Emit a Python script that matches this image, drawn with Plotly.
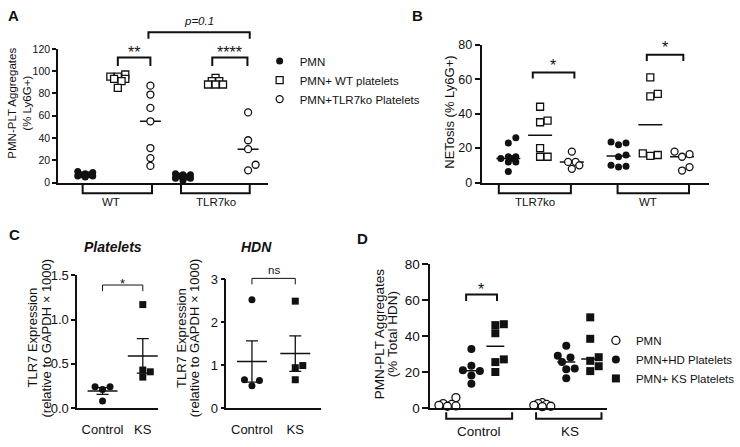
import numpy as np
import plotly.graph_objects as go

W, H = 740, 447
FONT = "Liberation Sans, Arial, sans-serif"
BLACK = "#111111"

# ---------------- data ----------------
# Panel A: PMN-PLT aggregates (% Ly6G+)
A_GROUPS = ["WT", "TLR7ko"]
A_SERIES = ["PMN", "PMN+ WT platelets", "PMN+TLR7ko Platelets"]
A_WT_PMN = [10, 9, 8, 7, 7, 6, 6, 5]
A_WT_WTPLT = [97, 95, 95, 93, 93, 91, 85]
A_WT_KOPLT = [87, 79, 67, 55, 31, 22, 15]
A_KO_PMN = [8, 7, 7, 6, 5, 4, 4, 2]
A_KO_WTPLT = [94, 91, 91, 88, 88, 88]
A_KO_KOPLT = [63, 38, 30, 16, 11]
A_YTICKS = [0, 20, 40, 60, 80, 100, 120]

# Panel B: NETosis (% Ly6G+)
B_GROUPS = ["TLR7ko", "WT"]
B_KO_PMN = [26, 23, 15, 15, 14, 14, 12, 12, 6.5]
B_KO_WTPLT = [44, 36, 35, 20, 15, 15]
B_KO_KOPLT = [18, 12, 12, 10, 8]
B_WT_PMN = [23.5, 23, 22, 16, 15, 10, 9.5, 9]
B_WT_WTPLT = [61, 51.5, 50, 17, 16, 15.5]
B_WT_KOPLT = [18, 16.5, 15, 9, 7]
B_YTICKS = [0, 20, 40, 60, 80]

# Panel C: TLR7 expression
C_CATS = ["Control", "KS"]
C_PLT_CONTROL = [0.24, 0.21, 0.24, 0.08]
C_PLT_KS = [1.17, 0.43, 0.41, 0.35]
C_HDN_CONTROL = [2.52, 0.66, 0.64, 0.52]
C_HDN_KS = [2.49, 0.99, 0.94, 0.66]
C_PLT_YTICKS = [0, 0.5, 1.0, 1.5]
C_PLT_YLABELS = ["0.0", "0.5", "1.0", "1.5"]
C_HDN_YTICKS = [0, 1, 2, 3]

# Panel D: PMN-PLT aggregates (% Total HDN)
D_GROUPS = ["Control", "KS"]
D_SERIES = ["PMN", "PMN+HD Platelets", "PMN+ KS Platelets"]
D_CTRL_PMN = [5.8, 2.5, 2, 1.5, 1.2, 1]
D_CTRL_HD = [32.7, 23.5, 21, 20.5, 18, 13.5]
D_CTRL_KS = [46.5, 46, 41.5, 27, 25.5, 20]
D_KS_PMN = [3, 2.5, 2, 1.5, 1, 0.8]
D_KS_HD = [34.5, 29, 28, 25.5, 22, 21.5, 16.5]
D_KS_KS = [50.3, 38.4, 28.2, 26.2, 23.2, 20.5]
D_YTICKS = [0, 20, 40, 60, 80]

# ---------------- geometry (pixels) ----------------
P = {
    "A": dict(n="", xdom=(58.3, 268.0), ydom=(43.3, 181.7), xr=(-0.83, 5.6), yr=(0, 120)),
    "B": dict(n="2", xdom=(482.3, 710.0), ydom=(39.0, 181.7), xr=(-0.84, 6.32), yr=(0, 80)),
    "C1": dict(n="3", xdom=(77.3, 158.3), ydom=(277.7, 415.0), xr=(-0.63, 1.38), yr=(0, 1.5)),
    "C2": dict(n="4", xdom=(226.7, 321.7), ydom=(281.7, 415.0), xr=(-0.59, 1.6), yr=(0, 3)),
    "D": dict(n="5", xdom=(431.0, 608.3), ydom=(265.7, 415.0), xr=(-0.71, 6.68), yr=(0, 80)),
}
for p in P.values():
    p["sx"] = (p["xdom"][1] - p["xdom"][0]) / (p["xr"][1] - p["xr"][0])
    p["sy"] = (p["ydom"][1] - p["ydom"][0]) / (p["yr"][1] - p["yr"][0])
    p["xa"] = "x" + p["n"]
    p["ya"] = "y" + p["n"]


def py(pix):
    return 1 - pix / H


def yv(p, v):
    b, t = 1 - p["ydom"][1] / H, 1 - p["ydom"][0] / H
    return b + (v - p["yr"][0]) / (p["yr"][1] - p["yr"][0]) * (t - b)


def swarm(vals, center, p, d, wmax):
    """Beeswarm offsets (in data units) limited to +/- wmax pixels."""
    order = sorted(range(len(vals)), key=lambda i: vals[i])
    step = d / 2
    cands = [0.0]
    for k in range(1, int(wmax // step) + 1):
        cands += [k * step, -k * step]
    placed, xs = [], [center] * len(vals)
    for i in order:
        ypx = vals[i] * p["sy"]
        best, bestd = 0.0, -1.0
        for c in cands:
            md = min([np.hypot(c - a, ypx - b) for a, b in placed] or [1e9])
            if md >= 0.97 * d:
                best = c
                break
            if md > bestd:
                bestd, best = md, c
        placed.append((best, ypx))
        xs[i] = center + best / p["sx"]
    return xs


fig = go.Figure()
shapes, anns = [], []

MARK = {
    "dot": dict(symbol="circle", color=BLACK, line=dict(width=0)),
    "osq": dict(symbol="square", color="white", line=dict(width=1.3, color=BLACK)),
    "ocir": dict(symbol="circle", color="white", line=dict(width=1.3, color=BLACK)),
    "sq": dict(symbol="square", color=BLACK, line=dict(width=0)),
}


def points(p, vals, center, kind, size, wmax, name="", legend=None):
    xs = swarm(vals, center, p, size + 0.5, wmax)
    m = dict(MARK[kind])
    m["size"] = size
    fig.add_trace(go.Scatter(
        x=xs, y=vals, xaxis=p["xa"], yaxis=p["ya"], mode="markers", marker=m,
        name=name, showlegend=legend is not None, legend=legend or "legend",
        cliponaxis=False, hoverinfo="skip"))


def hline(p, vals, center, halfpx, stat, lw=1.5):
    v = float(np.median(vals)) if stat == "median" else float(np.mean(vals))
    hw = halfpx / p["sx"]
    fig.add_trace(go.Scatter(
        x=[center - hw, center + hw], y=[v, v], xaxis=p["xa"], yaxis=p["ya"], mode="lines",
        line=dict(color=BLACK, width=lw), showlegend=False, cliponaxis=False, hoverinfo="skip"))


def sem_bar(p, vals, center):
    v = np.array(vals, dtype=float)
    sem = v.std(ddof=1) / np.sqrt(len(v))
    fig.add_trace(go.Scatter(
        x=[center], y=[v.mean()], xaxis=p["xa"], yaxis=p["ya"], mode="markers",
        marker=dict(size=1, color="rgba(0,0,0,0)"),
        error_y=dict(type="data", array=[sem], color=BLACK, thickness=1.3, width=6),
        showlegend=False, cliponaxis=False, hoverinfo="skip"))


def bracket(p, x0, x1, yh, yl, lw):
    shapes.append(dict(type="path", xref=p["xa"], yref="paper",
                       path=f"M {x0},{yl} L {x0},{yh} L {x1},{yh} L {x1},{yl}",
                       line=dict(color=BLACK, width=lw)))


def text(x, y, s, size, xref="paper", **kw):
    anns.append(dict(x=x, y=y, xref=xref, yref="paper", text=s, showarrow=False,
                     font=dict(size=size, color=BLACK, family=FONT),
                     xanchor="center", yanchor="middle", **kw))


def star(p, x, vis_px, s, size):
    text(x, py(vis_px + 0.25 * size), s, size, xref=p["xa"])


# ---------------- Panel A ----------------
pa = P["A"]
a_pos = [[0, 1, 2], [3, 4, 5]]
a_data = [[A_WT_PMN, A_WT_WTPLT, A_WT_KOPLT], [A_KO_PMN, A_KO_WTPLT, A_KO_KOPLT]]
a_kinds = ["dot", "osq", "ocir"]
for g in range(2):
    for s in range(3):
        hline(pa, a_data[g][s], a_pos[g][s], 10.5, "median")
for g in range(2):
    for s in range(3):
        points(pa, a_data[g][s], a_pos[g][s], a_kinds[s], 7, 10,
               name=A_SERIES[s], legend="legend" if g == 0 else None)
bracket(pa, 1, 2, yv(pa, 112.2), yv(pa, 104.7), 2)
star(pa, 1.5, 43, "**", 16)
bracket(pa, 3.9, 4.98, yv(pa, 112.2), yv(pa, 104.7), 2)
star(pa, 4.44, 43, "****", 16)
bracket(pa, 1.94, 5.05, yv(pa, 135), yv(pa, 129), 2)
text(3.5, py(15), "<i>p=0.1</i>", 11.5, xref=pa["xa"])
bracket(pa, -0.08, 2.05, py(192.7), py(184.3), 2)
bracket(pa, 2.94, 5.05, py(192.7), py(184.3), 2)
text(0.8, py(201.7), A_GROUPS[0], 11.5, xref=pa["xa"])
text(4.0, py(201.7), A_GROUPS[1], 11.5, xref=pa["xa"])
text(12 / W, py(99), "PMN-PLT Aggregates", 11.5, textangle=-90)
text(27 / W, py(99), "(% Ly6G+)", 11.5, textangle=-90)
text(14 / W, py(9), "<b>A</b>", 15)

# ---------------- Panel B ----------------
pb = P["B"]
b_pos = [[0, 1, 2], [3.47, 4.47, 5.47]]
b_data = [[B_KO_PMN, B_KO_WTPLT, B_KO_KOPLT], [B_WT_PMN, B_WT_WTPLT, B_WT_KOPLT]]
for g in range(2):
    for s in range(3):
        hline(pb, b_data[g][s], b_pos[g][s], 12, "median")
for g in range(2):
    for s in range(3):
        points(pb, b_data[g][s], b_pos[g][s], a_kinds[s], 7, 11)
bracket(pb, 0.77, 2.08, yv(pb, 63.9), yv(pb, 60.4), 2)
star(pb, 1.42, 57, "*", 16)
bracket(pb, 4.36, 5.51, yv(pb, 74.2), yv(pb, 70.6), 2)
star(pb, 4.93, 38, "*", 16)
bracket(pb, -0.3, 1.97, py(192.7), py(183.3), 2)
bracket(pb, 3.44, 5.69, py(192.7), py(183.3), 2)
text(0.84, py(201.7), B_GROUPS[0], 11.5, xref=pb["xa"])
text(4.4, py(201.7), B_GROUPS[1], 11.5, xref=pb["xa"])
text(450 / W, py(109), "NETosis (% Ly6G+)", 13, textangle=-90)
text(418 / W, py(9), "<b>B</b>", 15)

# ---------------- Panel C ----------------
for key, ctrl, ks in (("C1", C_PLT_CONTROL, C_PLT_KS), ("C2", C_HDN_CONTROL, C_HDN_KS)):
    pc = P[key]
    points(pc, ctrl, 0, "dot", 7, 12)
    points(pc, ks, 1, "sq", 7, 12)
    for c, vals in ((0, ctrl), (1, ks)):
        hline(pc, vals, c, 15, "mean", lw=1.5)
        sem_bar(pc, vals, c)
pc1, pc2 = P["C1"], P["C2"]
bracket(pc1, 0, 1, yv(pc1, 1.391), yv(pc1, 1.322), 1)
star(pc1, 0.5, 282.7, "*", 13)
bracket(pc2, 0, 1, yv(pc2, 3.02), yv(pc2, 2.88), 1)
text(0.5, py(271.7), "ns", 11.5, xref=pc2["xa"])
text(113.3 / W, py(248), "<b><i>Platelets</i></b>", 14)
text(257 / W, py(248), "<b><i>HDN</i></b>", 14)
for x1, x2 in ((33, 47), (181.7, 195)):
    text(x1 / W, py(342), "TLR7 Expression", 13, textangle=-90)
    text(x2 / W, py(342), "(relative to GAPDH × 1000)", 13, textangle=-90)
text(15 / W, py(235), "<b>C</b>", 15)

# ---------------- Panel D ----------------
pd_ = P["D"]
d_pos = [[0, 1, 2], [3.96, 4.96, 5.96]]
d_data = [[D_CTRL_PMN, D_CTRL_HD, D_CTRL_KS], [D_KS_PMN, D_KS_HD, D_KS_KS]]
d_kinds = ["ocir", "dot", "sq"]
for g in range(2):
    for s in range(3):
        hline(pd_, d_data[g][s], d_pos[g][s], 9, "median")
for g in range(2):
    for s in range(3):
        points(pd_, d_data[g][s], d_pos[g][s], d_kinds[s], 8, 9,
               name=D_SERIES[s], legend="legend2" if g == 0 else None)
bracket(pd_, 0.78, 2.07, yv(pd_, 63.0), yv(pd_, 59.3), 2)
star(pd_, 1.42, 288.3, "*", 16)
bracket(pd_, -0.05, 2.7, py(426), py(419.3), 2)
bracket(pd_, 3.7, 6.43, py(426), py(419.3), 2)
text(1.33, py(439.5), D_GROUPS[0], 13.5, xref=pd_["xa"])
text(5.1, py(439.5), D_GROUPS[1], 13.5, xref=pd_["xa"])
text(380 / W, py(338), "PMN-PLT Aggregates", 13.5, textangle=-90)
text(393 / W, py(338), "(% Total HDN)", 13.5, textangle=-90)
text(362.7 / W, py(240), "<b>D</b>", 15)

# ---------------- axes ----------------
layout = {}


def axes(p, yticks, ylabels, tfs, tlen, lw, xcats=None):
    xd = dict(domain=[p["xdom"][0] / W, p["xdom"][1] / W], range=list(p["xr"]), anchor=p["ya"],
              showline=True, linewidth=lw, linecolor=BLACK, showgrid=False, zeroline=False,
              fixedrange=True)
    if xcats:
        xd.update(tickvals=[0, 1], ticktext=xcats, ticks="outside", ticklen=9,
                  tickcolor="rgba(0,0,0,0)", tickfont=dict(size=13, color=BLACK))
    else:
        xd.update(showticklabels=False, ticks="")
    yd = dict(domain=[1 - p["ydom"][1] / H, 1 - p["ydom"][0] / H], range=list(p["yr"]),
              anchor=p["xa"], tickvals=yticks, ticktext=ylabels, ticks="outside", ticklen=tlen,
              tickwidth=1.5, tickcolor=BLACK, showline=True, linewidth=lw, linecolor=BLACK,
              showgrid=False, zeroline=False, tickfont=dict(size=tfs, color=BLACK), fixedrange=True)
    layout["xaxis" + p["n"]] = xd
    layout["yaxis" + p["n"]] = yd


axes(P["A"], A_YTICKS, [str(v) for v in A_YTICKS], 10.5, 4, 2)
axes(P["B"], B_YTICKS, [str(v) for v in B_YTICKS], 12.5, 5, 2)
axes(P["C1"], C_PLT_YTICKS, C_PLT_YLABELS, 13, 4, 1.5, C_CATS)
axes(P["C2"], C_HDN_YTICKS, [str(v) for v in C_HDN_YTICKS], 13, 4, 1.5, C_CATS)
axes(P["D"], D_YTICKS, [str(v) for v in D_YTICKS], 13.5, 6, 2)

fig.update_layout(
    width=W, height=H, margin=dict(l=0, r=0, t=0, b=0),
    paper_bgcolor="white", plot_bgcolor="white",
    font=dict(family=FONT, color=BLACK),
    shapes=shapes, annotations=anns,
    legend=dict(x=(300 - 40) / W, xanchor="left", y=py(41), yanchor="top",
                font=dict(size=11.5, color=BLACK), bgcolor="rgba(0,0,0,0)", tracegroupgap=0),
    legend2=dict(x=(636.7 - 40) / W, xanchor="left", y=py(330), yanchor="top",
                 font=dict(size=11.5, color=BLACK), bgcolor="rgba(0,0,0,0)", tracegroupgap=0),
    **layout,
)

fig.write_html("out.html", config={"displayModeBar": False},
               post_script="document.body.style.margin='0px';document.body.style.overflow='hidden';")
